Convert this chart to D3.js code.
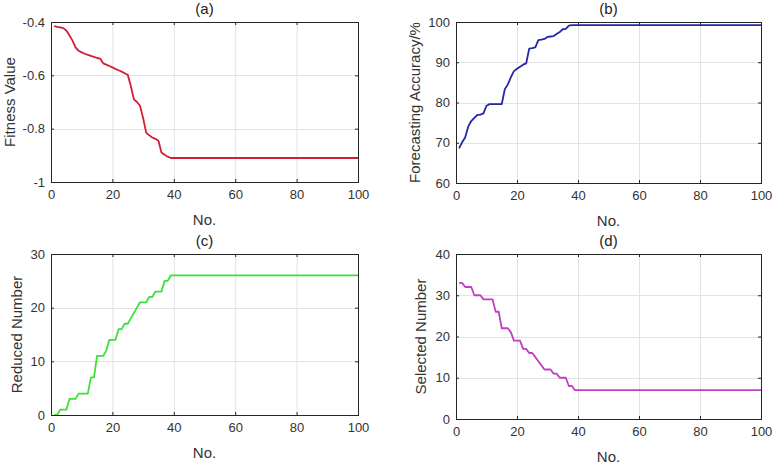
<!DOCTYPE html>
<html>
<head>
<meta charset="utf-8">
<script src="https://cdnjs.cloudflare.com/ajax/libs/d3/7.8.5/d3.min.js"></script>
<style>
  body { margin: 0; background: #fff; }
  svg { font-family: "Liberation Sans", Arial, sans-serif; }
</style>
</head>
<body>
<svg id="chart" width="776" height="470"></svg>
<script>
// iteration numbers (the curves are flat after 40, so the last point is 100)
const iters = [1, 2, 3, 4, 5, 6, 7, 8, 9, 10, 11, 12, 13, 14, 15, 16, 17, 18, 19, 20,
  21, 22, 23, 24, 25, 26, 27, 28, 29, 30, 31, 32, 33, 34, 35, 36, 37, 38, 39, 40, 100];

// (a) fitness value
const fitness = [-0.415, -0.418, -0.420, -0.423, -0.432, -0.450, -0.470, -0.495, -0.508, -0.514,
  -0.519, -0.523, -0.527, -0.531, -0.535, -0.537, -0.555, -0.560, -0.565, -0.570,
  -0.576, -0.581, -0.586, -0.592, -0.598, -0.640, -0.690, -0.700, -0.714, -0.760,
  -0.815, -0.825, -0.833, -0.838, -0.845, -0.890, -0.898, -0.905, -0.910, -0.910, -0.910];

// (b) forecasting accuracy in %
const accuracy = [68.6, 70.1, 71.3, 74.0, 75.4, 76.2, 76.9, 77.0, 77.3, 79.2,
  79.6, 79.6, 79.6, 79.6, 79.6, 83.3, 84.5, 86.3, 87.8, 88.4,
  88.9, 89.4, 89.7, 93.4, 93.5, 93.7, 95.5, 95.6, 95.8, 96.3,
  96.4, 96.5, 97.0, 97.5, 98.2, 98.3, 99.1, 99.2, 99.2, 99.2, 99.2];

// (c) reduced number of features
const reduced = [0, 0, 1, 1, 1, 3, 3, 3, 4, 4, 4, 4, 7, 7, 11, 11, 11, 12, 14, 14,
  14, 16, 16, 17, 17, 18, 19, 20, 21, 21, 21, 22, 22, 23, 23, 23, 25, 25, 26, 26, 26];

// (d) selected number of features
const selected = [33, 33, 32, 32, 32, 30, 30, 30, 29, 29, 29, 29, 26, 26, 22, 22, 22, 21, 19, 19,
  19, 17, 17, 16, 16, 15, 14, 13, 12, 12, 12, 11, 11, 10, 10, 10, 8, 8, 7, 7, 7];

const xTicks = [0, 20, 40, 60, 80, 100];
const fitnessTicks = [-1, -0.8, -0.6, -0.4];
const accuracyTicks = [60, 70, 80, 90, 100];
const reducedTicks = [0, 10, 20, 30];
const selectedTicks = [0, 10, 20, 30, 40];

const svg = d3.select("#chart");
const textColor = "#333";

function drawPanel(opts) {
    const x = d3.scaleLinear().domain([0, 100]).range([opts.left, opts.right]);
    const y = d3.scaleLinear().domain(opts.yDomain).range([opts.bottom, opts.top]);
    const g = svg.append("g");

    // grid
    g.selectAll(".vgrid").data(xTicks.slice(1, -1)).enter().append("line")
        .attr("x1", d => x(d) + 0.5).attr("x2", d => x(d) + 0.5)
        .attr("y1", opts.top).attr("y2", opts.bottom)
        .attr("stroke", "#e3e3e3").attr("stroke-width", 1);
    g.selectAll(".hgrid").data(opts.yTicks.slice(1, -1)).enter().append("line")
        .attr("x1", opts.left).attr("x2", opts.right)
        .attr("y1", d => Math.round(y(d)) + 0.5).attr("y2", d => Math.round(y(d)) + 0.5)
        .attr("stroke", "#e3e3e3").attr("stroke-width", 1);

    // the data line
    const line = d3.line().x((d, i) => x(iters[i])).y(d => y(d));
    g.append("path").datum(opts.values)
        .attr("d", line)
        .attr("fill", "none")
        .attr("stroke", opts.color)
        .attr("stroke-width", 1.8)
        .attr("stroke-linejoin", "round");

    // axes, ticks pointing inwards like MATLAB
    g.append("g")
        .attr("transform", `translate(0,${opts.bottom})`)
        .call(d3.axisBottom(x).tickValues(xTicks).tickSize(-3).tickPadding(8))
        .call(a => a.select(".domain").remove());
    g.append("g")
        .attr("transform", `translate(${opts.left},0)`)
        .call(d3.axisLeft(y).tickValues(opts.yTicks).tickSize(-3).tickPadding(6).tickFormat(d => String(d)))
        .call(a => a.select(".domain").remove());
    g.append("g")
        .attr("transform", `translate(0,${opts.top})`)
        .call(d3.axisTop(x).tickValues(xTicks).tickSize(-3).tickFormat(""))
        .call(a => a.select(".domain").remove());
    g.append("g")
        .attr("transform", `translate(${opts.right},0)`)
        .call(d3.axisRight(y).tickValues(opts.yTicks).tickSize(-3).tickFormat(""))
        .call(a => a.select(".domain").remove());

    g.selectAll(".tick line").attr("stroke", "#262626");
    g.selectAll(".tick text")
        .attr("fill", textColor)
        .style("font-size", "13px")
        .style("font-family", "Liberation Sans, Arial, sans-serif");

    g.append("rect")
        .attr("x", opts.left + 0.5).attr("y", opts.top + 0.5)
        .attr("width", opts.right - opts.left).attr("height", opts.bottom - opts.top)
        .attr("fill", "none").attr("stroke", "#262626").attr("stroke-width", 1);

    // title and labels
    const cx = (opts.left + opts.right) / 2;
    g.append("text").attr("x", cx).attr("y", opts.top - 8)
        .attr("text-anchor", "middle").attr("fill", "#222")
        .style("font-size", "15px").text(opts.title);
    g.append("text").attr("x", cx).attr("y", opts.bottom + 43)
        .attr("text-anchor", "middle").attr("fill", textColor)
        .style("font-size", "15px").text("No.");
    g.append("text")
        .attr("transform", `translate(${opts.yLabelX},${(opts.top + opts.bottom) / 2}) rotate(-90)`)
        .attr("text-anchor", "middle").attr("dy", "0.35em").attr("fill", textColor)
        .style("font-size", "15px").text(opts.yLabel);
}

drawPanel({ left: 51, right: 358, top: 22, bottom: 182, yDomain: [-1, -0.4], yTicks: fitnessTicks,
    values: fitness, color: "#cf1f37", title: "(a)", yLabel: "Fitness Value", yLabelX: 10 });
drawPanel({ left: 456, right: 761, top: 22, bottom: 183, yDomain: [60, 100], yTicks: accuracyTicks,
    values: accuracy, color: "#2626a8", title: "(b)", yLabel: "Forecasting Accuracy/%", yLabelX: 415 });
drawPanel({ left: 51, right: 358, top: 254, bottom: 415, yDomain: [0, 30], yTicks: reducedTicks,
    values: reduced, color: "#3ee03a", title: "(c)", yLabel: "Reduced Number", yLabelX: 17 });
drawPanel({ left: 456, right: 761, top: 254, bottom: 419, yDomain: [0, 40], yTicks: selectedTicks,
    values: selected, color: "#c040c4", title: "(d)", yLabel: "Selected Number", yLabelX: 421 });
</script>
</body>
</html>
